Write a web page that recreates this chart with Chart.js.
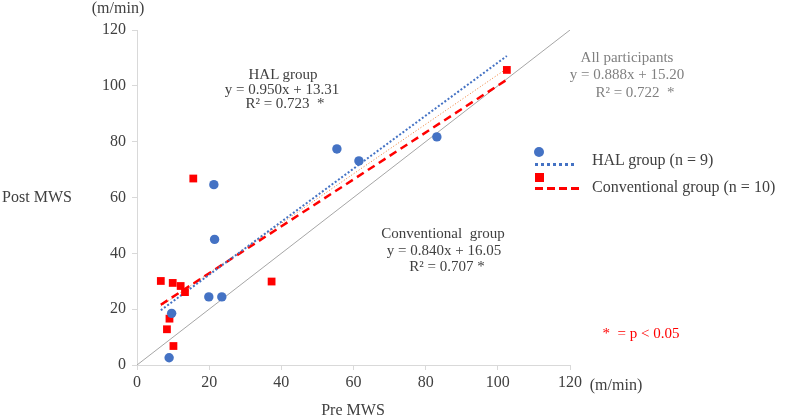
<!DOCTYPE html>
<html>
<head>
<meta charset="utf-8">
<title>Pre vs Post MWS</title>
<script src="https://cdn.jsdelivr.net/npm/chart.js@4"></script>
<style>
body { margin: 0; background: #fff; }
#wrap {
   position: relative; width: 787px; height: 418px;
   font-family: 'Liberation Serif', 'Times New Roman', serif;
   color: #404040;
}
.lbl { position: absolute; white-space: pre; line-height: 1; transform: translate(-50%, -50%); }
.ann { font-size: 15px; }
.big { font-size: 16px; }
.gray { color: #808080; }
.red { color: #ff0000; }
.sym { position: absolute; }
</style>
</head>
<body>

<div id="wrap">
<canvas id="chartDiv" width="787" height="418"></canvas>

<!-- axis titles -->
<div class="lbl big" style="left:118px; top:8px;">(m/min)</div>
<div class="lbl big" style="left:37px; top:197px;">Post MWS</div>
<div class="lbl big" style="left:353px; top:410px;">Pre MWS</div>
<div class="lbl big" style="left:616px; top:385px;">(m/min)</div>

<!-- regression notes -->
<div class="lbl ann" style="left:283px; top:74px;">HAL group</div>
<div class="lbl ann" style="left:282px; top:89px;">y = 0.950x + 13.31</div>
<div class="lbl ann" style="left:285px; top:103px;">R² = 0.723  *</div>

<div class="lbl ann gray" style="left:627px; top:57px;">All participants</div>
<div class="lbl ann gray" style="left:627px; top:74px;">y = 0.888x + 15.20</div>
<div class="lbl ann gray" style="left:635px; top:92px;">R² = 0.722  *</div>

<div class="lbl ann" style="left:443px; top:233px;">Conventional  group</div>
<div class="lbl ann" style="left:444px; top:250px;">y = 0.840x + 16.05</div>
<div class="lbl ann" style="left:447px; top:266px;">R² = 0.707 *</div>

<div class="lbl ann red" style="left:641px; top:333px;">*  = p &lt; 0.05</div>

<!-- legend -->
<div class="sym" style="left:534px; top:147px; width:10px; height:10px; border-radius:50%; background:#4472c4;"></div>
<div class="sym" style="left:535px; top:163px; width:42px; height:3px; background:repeating-linear-gradient(90deg, #4472c4 0 3px, transparent 3px 6px);"></div>
<div class="lbl big" style="left:592px; top:160px; transform:translateY(-50%);">HAL group (n = 9)</div>
<div class="sym" style="left:535px; top:173px; width:9px; height:9px; background:#ff0000;"></div>
<div class="sym" style="left:535px; top:187px; width:44px; height:3px; background:repeating-linear-gradient(90deg, #ff0000 0 8px, transparent 8px 12px);"></div>
<div class="lbl big" style="left:592px; top:187px; transform:translateY(-50%);">Conventional group (n = 10)</div>
</div>

<script>

// HAL group points
var halPre  = [8.9, 9.6, 19.9, 21.3, 21.5, 23.5, 55.4, 61.5, 83.1];
var halPost = [2.6, 18.5, 24.4, 64.6, 45.0, 24.4, 77.4, 73.1, 81.7];

// Conventional group points
var convPre  = [6.6, 8.3, 9.0, 9.9, 10.1, 12.1, 13.3, 15.6, 37.3, 102.5];
var convPost = [30.1, 12.8, 16.6, 29.4, 6.8, 28.3, 26.1, 66.8, 29.9, 105.7];

// trend line end points
var fitPre  = [6.6, 102.5];
var halFit  = [19.6, 110.7];
var convFit = [21.6, 102.2];
var allFit  = [21.1, 106.2];
var idLine  = [0, 120];

var axisTicks = [0, 20, 40, 60, 80, 100, 120];

function pts(xs, ys) 
{
   return xs.map(function(x, i) { return {x: x, y: ys[i]}; });
}

var serif = 'Liberation Serif, Times New Roman, serif';

function axis(size, isX) 
{
   return {
      type: 'linear',
      min: axisTicks[0],
      max: axisTicks[axisTicks.length - 1],
      afterBuildTicks: function(s) { s.ticks = axisTicks.map(function(v) { return {value: v}; }); },
      ticks: { color: '#404040', font: {family: serif, size: 16}, padding: isX ? 3 : 6, maxRotation: 0 },
      grid: { drawOnChartArea: false, drawTicks: true, tickLength: 5, color: '#d9d9d9' },
      border: { display: true, color: '#d9d9d9', width: 1 },
      afterFit: function(s) { if (isX) s.height = size; else s.width = size; }
   };
}

new Chart("chartDiv", {
  type: "scatter",
  data: {
    datasets: [{
      type: 'line', data: pts(idLine, idLine), borderColor: '#a6a6a6', borderWidth: 1,
      pointRadius: 0, fill: false, order: 6
    }, {
      type: 'line', data: pts(fitPre, allFit), borderColor: '#ed7d31', borderWidth: 1,
      borderDash: [1, 2], pointRadius: 0, fill: false, order: 5
    }, {
      type: 'line', data: pts(fitPre, convFit), borderColor: '#ff0000', borderWidth: 2.5,
      borderDash: [8, 5], pointRadius: 0, fill: false, order: 4
    }, {
      type: 'line', data: pts(fitPre, halFit), borderColor: '#4472c4', borderWidth: 2,
      borderDash: [2, 2], pointRadius: 0, fill: false, order: 3
    }, {
      data: pts(convPre, convPost), pointStyle: 'rect', pointRadius: 5.5,
      backgroundColor: '#ff0000', borderColor: '#ff0000', borderWidth: 0, order: 2
    }, {
      data: pts(halPre, halPost), pointStyle: 'circle', pointRadius: 4.7,
      backgroundColor: '#4472c4', borderColor: '#4472c4', borderWidth: 0, order: 1
    }]
  },
  options: {
    responsive: false,
    animation: false,
    layout: { padding: {left: 0, right: 217, top: 30, bottom: 0} },
    plugins: { legend: {display: false}, tooltip: {enabled: false} },
    scales: { x: axis(53, true), y: axis(137, false) }
  }
});

</script>
</body>
</html>
